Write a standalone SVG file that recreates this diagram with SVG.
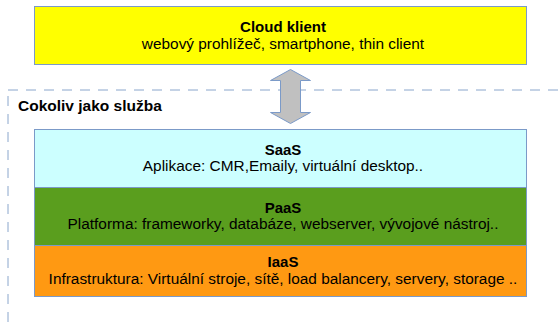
<svg xmlns="http://www.w3.org/2000/svg" width="560" height="322" viewBox="0 0 560 322">
<style>
text{font-family:"Liberation Sans",Arial,sans-serif;fill:#000;text-anchor:middle}
.t{font-weight:bold;font-size:15px}
.s{font-size:15.4px}
.box{stroke:#7b9ac8;stroke-width:1}
.dash{stroke:#8aa6cc;stroke-width:1;stroke-dasharray:10,8;fill:none}
</style>
<rect width="560" height="322" fill="#fff"/>
<g id="region">
<path class="dash" d="M8,90 H560"/>
<path class="dash" d="M8,96 V322"/>
<text x="18" y="111" class="t" style="text-anchor:start;font-size:15.5px">Cokoliv jako služba</text>
</g>
<g id="cloud-klient">
<rect class="box" x="34.5" y="6.5" width="492" height="58" fill="#ffff00"/>
<text x="283" y="32" class="t">Cloud klient</text>
<text x="283" y="49" class="s">webový prohlížeč, smartphone, thin client</text>
</g>
<g id="saas">
<rect class="box" x="34.5" y="129.5" width="492" height="58" fill="#ccffff"/>
<text x="283" y="155" class="t">SaaS</text>
<text x="283" y="171" class="s">Aplikace: CMR,Emaily, virtuální desktop..</text>
</g>
<g id="paas">
<rect class="box" x="34.5" y="187.5" width="492" height="58" fill="#5a9e1e"/>
<text x="283" y="213" class="t">PaaS</text>
<text x="283" y="229" class="s">Platforma: frameworky, databáze, webserver, vývojové nástroj..</text>
</g>
<g id="iaas">
<rect class="box" x="34.5" y="245.5" width="492" height="51" fill="#ff9912"/>
<text x="283" y="267" class="t">IaaS</text>
<text x="283" y="284" class="s">Infrastruktura: Virtuální stroje, sítě, load balancery, servery, storage ..</text>
</g>
<g id="connectors">
<path d="M290.5,69.5 L310.5,80.5 L300.5,80.5 L300.5,112.5 L310.5,112.5 L290.5,123.5 L270.5,112.5 L280.5,112.5 L280.5,80.5 L270.5,80.5 Z" fill="#c0c0c0" stroke="#7b9ac8" stroke-width="1"/>
</g>
</svg>
